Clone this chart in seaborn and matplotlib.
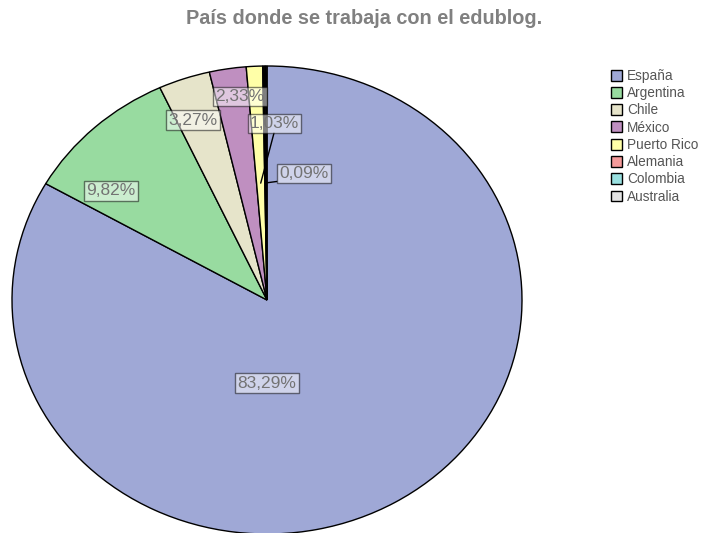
import numpy as np
import matplotlib
matplotlib.use("Agg")
import matplotlib.pyplot as plt
import seaborn as sns

# ---- data ----
countries = ["España", "Argentina", "Chile", "México", "Puerto Rico",
             "Alemania", "Colombia", "Australia"]
percent = [83.29, 9.82, 3.27, 2.33, 1.03, 0.09, 0.09, 0.09]
shown_labels = ["83,29%", "9,82%", "3,27%", "2,33%", "1,03%", "0,09%", "", ""]
colors = ["#9FA8D6", "#98DBA0", "#E6E4CA", "#BF8FC0", "#FFFFA8",
          "#F49A9A", "#99E0E0", "#E4E4E4"]
title = "País donde se trabaja con el edublog."

# label box centres (axis units) and whether a leader line is used
label_pos = [(0.0, -0.355), (-0.612, 0.466), (-0.29, 0.769), (-0.106, 0.868),
             (0.03, 0.756), (0.145, 0.54), None, None]
leader = [False, False, False, False, True, True, False, False]

sns.set_theme(style="white")
plt.rcParams["font.family"] = ["Liberation Sans", "DejaVu Sans"]

fig = plt.figure(figsize=(7.03, 5.33), dpi=100)
ax = fig.add_axes([12 / 703, (533 - 534) / 533, 510 / 703, 468 / 533])

wedges, _ = ax.pie(percent, colors=colors, startangle=90, counterclock=False,
                   wedgeprops=dict(edgecolor="black", linewidth=1),
                   radius=1, center=(0, 0))
ax.set_aspect("auto")
ax.set_xlim(-1, 1)
ax.set_ylim(-1, 1)
ax.axis("off")
for w in wedges:
    w.set_clip_on(False)

box = dict(boxstyle="square,pad=0.12", facecolor="white", alpha=0.5,
           edgecolor="black", linewidth=1)
for w, lab, pos, lead in zip(wedges, shown_labels, label_pos, leader):
    if not lab:
        continue
    if lead:
        mid = np.deg2rad((w.theta1 + w.theta2) / 2)
        xy = (0.5 * np.cos(mid), 0.5 * np.sin(mid))
        t = ax.annotate(lab, xy=xy, xytext=pos, ha="center", va="center",
                        fontsize=12.5, color="#737373",
                        arrowprops=dict(arrowstyle="-", color="black", lw=1,
                                        shrinkA=0, shrinkB=0,
                                        relpos=(0.5, 0.0) if lab == "1,03%" else (0.0, 0.0)))
    else:
        t = ax.text(pos[0], pos[1], lab, ha="center", va="center",
                    fontsize=12.5, color="#737373")
    t.set_bbox(box)
    t.set_clip_on(False)

fig.text(364 / 703, 1 - 18 / 533, title, ha="center", va="center",
         fontsize=14.3, fontweight="bold", color="#808080")

leg = fig.legend(wedges, countries, loc="upper left",
                 bbox_to_anchor=(604 / 703, 1 - 62 / 533), frameon=False,
                 handlelength=0.85, handleheight=0.85, handletextpad=0.35,
                 labelspacing=0.24, fontsize=9.8, borderpad=0)
for txt in leg.get_texts():
    txt.set_color("#555555")

fig.savefig("out.png", dpi=100)
